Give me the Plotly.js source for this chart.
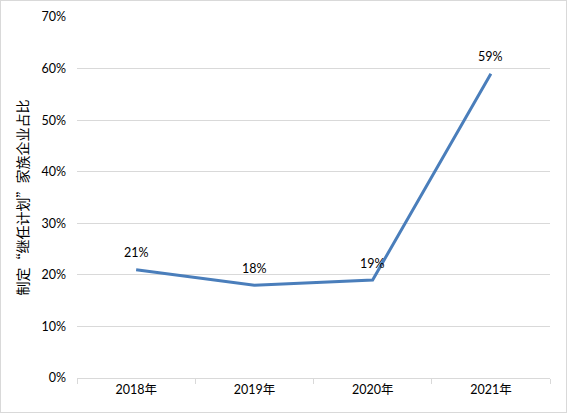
<!DOCTYPE html>
<html>
<head>
<meta charset="utf-8">
<script src="https://cdn.plot.ly/plotly-3.0.1.min.js"></script>
<style>
html,body{margin:0;padding:0;background:#fff;}
#chart{width:567px;height:413px;box-sizing:border-box;border:1px solid #d9d9d9;}
</style>
</head>
<body>
<div id="chart"></div>
<script>
const categories = ["2018年", "2019年", "2020年", "2021年"];
const shares = [0.21, 0.18, 0.19, 0.59];
const labels = ["21%", "18%", "19%", "59%"];
const yTitle = "制定“继任计划”家族企业占比";

const FONT = "Lato, 'Noto Sans CJK SC', sans-serif";

const trace = {
  x: categories,
  y: shares,
  type: "scatter",
  mode: "lines",
  line: {color: "#4a7ebb", width: 3},
  hoverinfo: "skip"
};

const annotations = categories.map((c, i) => ({
  x: c,
  y: shares[i],
  xref: "x",
  yref: "y",
  text: labels[i],
  showarrow: false,
  yshift: 17,
  font: {family: FONT, size: 12.5, color: "#000"}
}));

const layout = {
  width: 565,
  height: 411,
  margin: {l: 76, r: 16, t: 16, b: 34},
  paper_bgcolor: "#fff",
  plot_bgcolor: "#fff",
  showlegend: false,
  font: {family: FONT, size: 12, color: "#000"},
  annotations: annotations,
  xaxis: {
    type: "category",
    range: [-0.5, 3.5],
    showline: true,
    linecolor: "#d9d9d9",
    linewidth: 1,
    ticks: "outside",
    tickson: "boundaries",
    ticklen: 5,
    tickcolor: "#d9d9d9",
    showgrid: false,
    tickfont: {family: FONT, size: 12.5, color: "#000"}
  },
  yaxis: {
    range: [0, 0.7],
    dtick: 0.1,
    tickformat: ".0%",
    showgrid: true,
    gridcolor: "#d9d9d9",
    zeroline: false,
    showline: false,
    ticks: "",
    ticklabelstandoff: 10,
    tickfont: {family: FONT, size: 12.5, color: "#000"},
    title: {
      text: yTitle,
      standoff: 9,
      font: {family: "'Noto Sans CJK SC', sans-serif", size: 14, color: "#000"}
    }
  }
};

Plotly.newPlot("chart", [trace], layout, {staticPlot: true, displayModeBar: false});
</script>
</body>
</html>
